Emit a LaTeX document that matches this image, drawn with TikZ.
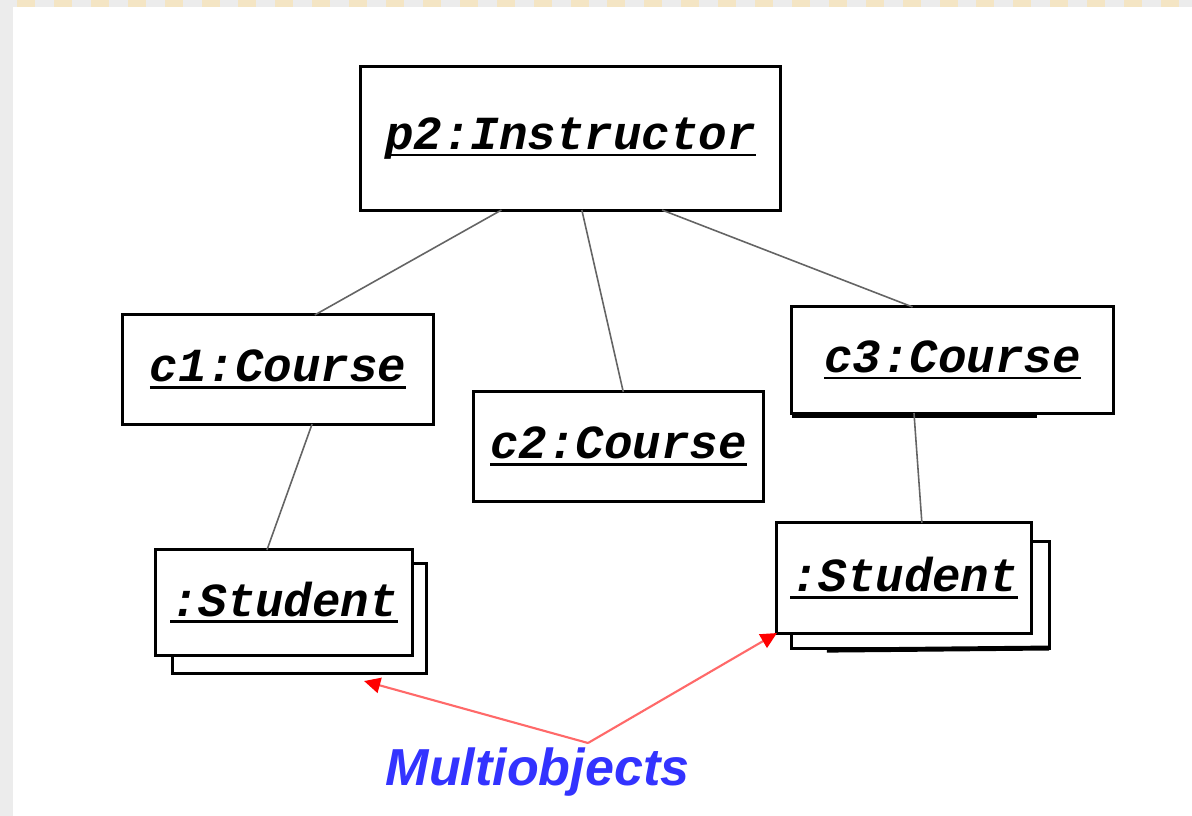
\documentclass[tikz,border=0pt]{standalone}
\usepackage{fontspec}
\usetikzlibrary{arrows.meta}
\newfontfamily\objfont{Liberation Mono}
\newfontfamily\notefont{Liberation Sans}
\definecolor{pagegray}{RGB}{236,236,236}
\definecolor{stripetan}{RGB}{244,229,196}
\definecolor{noteblue}{RGB}{51,51,255}
\definecolor{linkgray}{RGB}{100,100,100}
\definecolor{pointred}{RGB}{255,105,105}
\newcommand{\objname}[1]{\setbox0\hbox{#1}\rlap{\rule[-2pt]{\wd0}{0.8pt}}\box0}

\begin{document}
\begin{tikzpicture}[x=0.01cm,y=-0.01cm]
                    \fill[pagegray] (0,0) rectangle (1192,816);
                    \fill[white] (13,7) rectangle (1192,816);
                    \foreach \i in {0,...,31}
                        \fill[stripetan] (17+36.9*\i,0) rectangle +(18,7);
                    \begin{scope}[every node/.style={rectangle,draw=black,line width=0.85pt,fill=white,outer sep=0pt,inner sep=0pt,font=\objfont\bfseries\itshape\fontsize{13.5}{16}\selectfont}]
                        \node[minimum width=4.19cm,minimum height=1.43cm] (P2) at (570.5,138.5) {\objname{p2:Instructor}};
                        \node[minimum width=3.10cm,minimum height=1.09cm] (C1) at (278,369.5) {\objname{c1:Course}};
                        \node[minimum width=2.89cm,minimum height=1.09cm] (C2) at (618.5,446.5) {\objname{c2:Course}};
                        \node[minimum width=3.21cm,minimum height=1.06cm] (C3) at (952.5,360) {\objname{c3:Course}};
                        \node[minimum width=2.53cm,minimum height=1.09cm] (S1b) at (299.5,618.5) {};
                        \node[minimum width=2.56cm,minimum height=1.05cm] (S1) at (284,602.5) {\objname{:Student}};
                        \node[minimum width=2.57cm,minimum height=1.06cm] (S3b) at (920.5,595) {};
                        \node[minimum width=2.54cm,minimum height=1.10cm] (S3) at (904,578) {\objname{:Student}};
                    \end{scope}
                    \draw[line width=1.4pt] ([yshift=-0.6pt]C3.south west) -- +(245,0);
                    \draw[line width=1.4pt] ([shift={(35,0)},yshift=-0.6pt]S3b.south west) -- (S3b.south east);
                    \begin{scope}[every edge/.style={draw=linkgray,line width=0.45pt}]
                        \draw (P2.226) edge (C1.56);
                        \draw (P2.279) edge (C2.85);
                        \draw (P2.322) edge (C3.127);
                        \draw (C1.302) edge (S1.108);
                        \draw (C3.234) edge (S3.72);
                    \end{scope}
                    \node[font=\notefont\bfseries\itshape\fontsize{14.8}{17}\selectfont,text=noteblue,anchor=base west,inner sep=0pt] (Note) at (385,785) {Multiobjects};
                    \coordinate (Split) at (588,743);
                    \begin{scope}[every path/.style={draw=pointred,line width=0.6pt,-{Triangle[length=4.6pt,width=4.4pt,color=red,fill=red]}}]
                        \draw (Split) -- ([shift={(-62,8)}]S1b.south east);
                        \draw (Split) -- (S3.south west);
                    \end{scope}
\end{tikzpicture}
\end{document}
